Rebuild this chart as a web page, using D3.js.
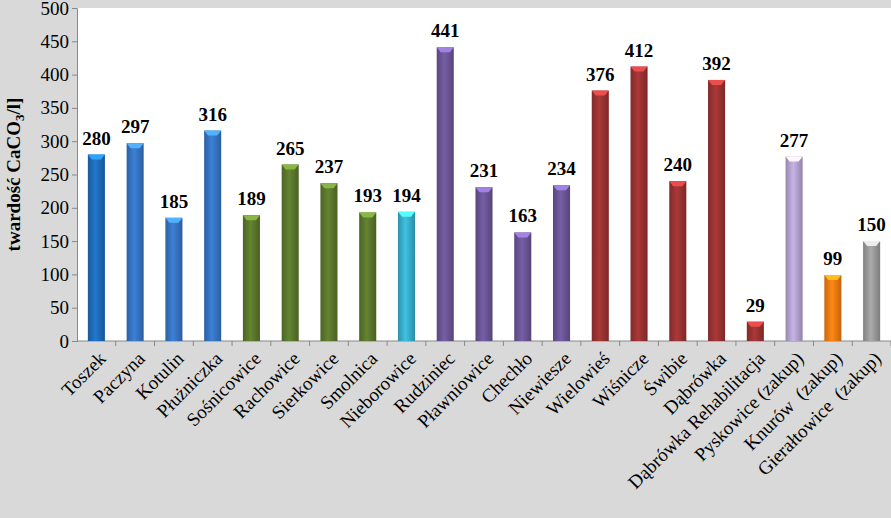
<!DOCTYPE html>
<html><head><meta charset="utf-8">
<script src="https://cdn.jsdelivr.net/npm/d3@7"></script>
<style>body{margin:0;background:#d9d9d9}svg{display:block;font-family:"Liberation Serif","Times New Roman",serif}</style>
</head><body>
<script>
var names = ["Toszek","Paczyna","Kotulin","Płużniczka","Sośnicowice","Rachowice","Sierkowice","Smolnica","Nieborowice","Rudziniec","Pławniowice","Chechło","Niewiesze","Wielowieś","Wiśnicze","Świbie","Dąbrówka","Dąbrówka Rehabilitacja","Pyskowice (zakup)","Knurów  (zakup)","Gierałtowice  (zakup)"];
var values = [280,297,185,316,189,265,237,193,194,441,231,163,234,376,412,240,392,29,277,99,150];
var colors = ["#1e6bb8","#3674c2","#3674c2","#3674c2","#5a772c","#5a772c","#5a772c","#5a772c","#38aecb","#6a5595","#6a5595","#6a5595","#6a5595","#9a3232","#9a3232","#9a3232","#9a3232","#9a3232","#b3a2cf","#f07b10","#9a9a9a"];
var yTicks = [0,50,100,150,200,250,300,350,400,450,500];

var w = 891, h = 518;
var pLeft = 77, pTop = 8, pBottom = 341, pRight = 891;
var svg = d3.select("body").append("svg").attr("width", w).attr("height", h);
svg.append("rect").attr("x", pLeft).attr("y", pTop).attr("width", pRight - pLeft).attr("height", pBottom - pTop).attr("fill", "#fff");

var x = d3.scaleBand().domain(names).range([pLeft, pRight]).paddingInner(0.56).paddingOuter(0.28);
var y = d3.scaleLinear().domain([0, 500]).range([pBottom, pTop]);

var ya = svg.append("g").attr("transform", "translate(" + pLeft + ",0)")
  .call(d3.axisLeft(y).tickValues(yTicks).tickSize(5));
ya.selectAll("text").attr("font-size", 19).attr("fill", "#000").attr("font-family", "Liberation Serif");
ya.select(".domain").attr("stroke", "#888");
ya.selectAll("line").attr("stroke", "#888");

var xa = svg.append("g").attr("transform", "translate(0," + pBottom + ")")
  .call(d3.axisBottom(x).tickSize(5).tickFormat(""));
xa.select(".domain").attr("d", "M" + pLeft + ",0H" + pRight).attr("stroke", "#888");
xa.selectAll("line").attr("stroke", "#888").attr("transform", "translate(" + (x.step() / 2) + ",0)");

var defs = svg.append("defs");
colors.forEach(function(c, i) {
  var g = defs.append("linearGradient").attr("id", "g" + i);
  g.append("stop").attr("offset", "0%").attr("stop-color", d3.color(c).darker(0.5));
  g.append("stop").attr("offset", "45%").attr("stop-color", d3.color(c).brighter(0.3));
  g.append("stop").attr("offset", "100%").attr("stop-color", d3.color(c).darker(0.6));
});

var bars = svg.selectAll(".bar").data(values).enter().append("g");
bars.append("rect")
  .attr("x", function(d, i) { return x(names[i]); })
  .attr("y", function(d) { return y(d); })
  .attr("width", x.bandwidth())
  .attr("height", function(d) { return pBottom - y(d); })
  .attr("fill", function(d, i) { return "url(#g" + i + ")"; });
bars.append("path")
  .attr("d", function(d, i) {
    var x0 = x(names[i]), bw = x.bandwidth(), y0 = y(d);
    return "M" + x0 + "," + y0 + "h" + bw + "l-4,5h" + (8 - bw) + "z";
  })
  .attr("fill", function(d, i) { return d3.color(colors[i]).brighter(1.2); });

svg.selectAll(".lbl").data(values).enter().append("text")
  .attr("x", function(d, i) { return x(names[i]) + x.bandwidth() / 2; })
  .attr("y", function(d) { return y(d) - 10; })
  .attr("text-anchor", "middle").attr("font-size", 19).attr("font-weight", "bold")
  .text(function(d) { return d; });

svg.selectAll(".cat").data(names).enter().append("text")
  .attr("transform", function(d) { return "translate(" + (x(d) + x.bandwidth() / 2 + 6) + "," + (pBottom + 14) + ") rotate(-45)"; })
  .attr("text-anchor", "end").attr("font-size", 19).attr("dy", "0.35em")
  .style("white-space", "pre")
  .text(function(d) { return d; });

var yt = svg.append("text").attr("transform", "translate(20," + ((pTop + pBottom) / 2) + ") rotate(-90)")
  .attr("text-anchor", "middle").attr("font-size", 19).attr("font-weight", "bold");
yt.append("tspan").text("twardość CaCO");
yt.append("tspan").attr("font-size", 13).attr("dy", 4).text("3");
yt.append("tspan").attr("dy", -4).text("/l]");
</script>
</body></html>
